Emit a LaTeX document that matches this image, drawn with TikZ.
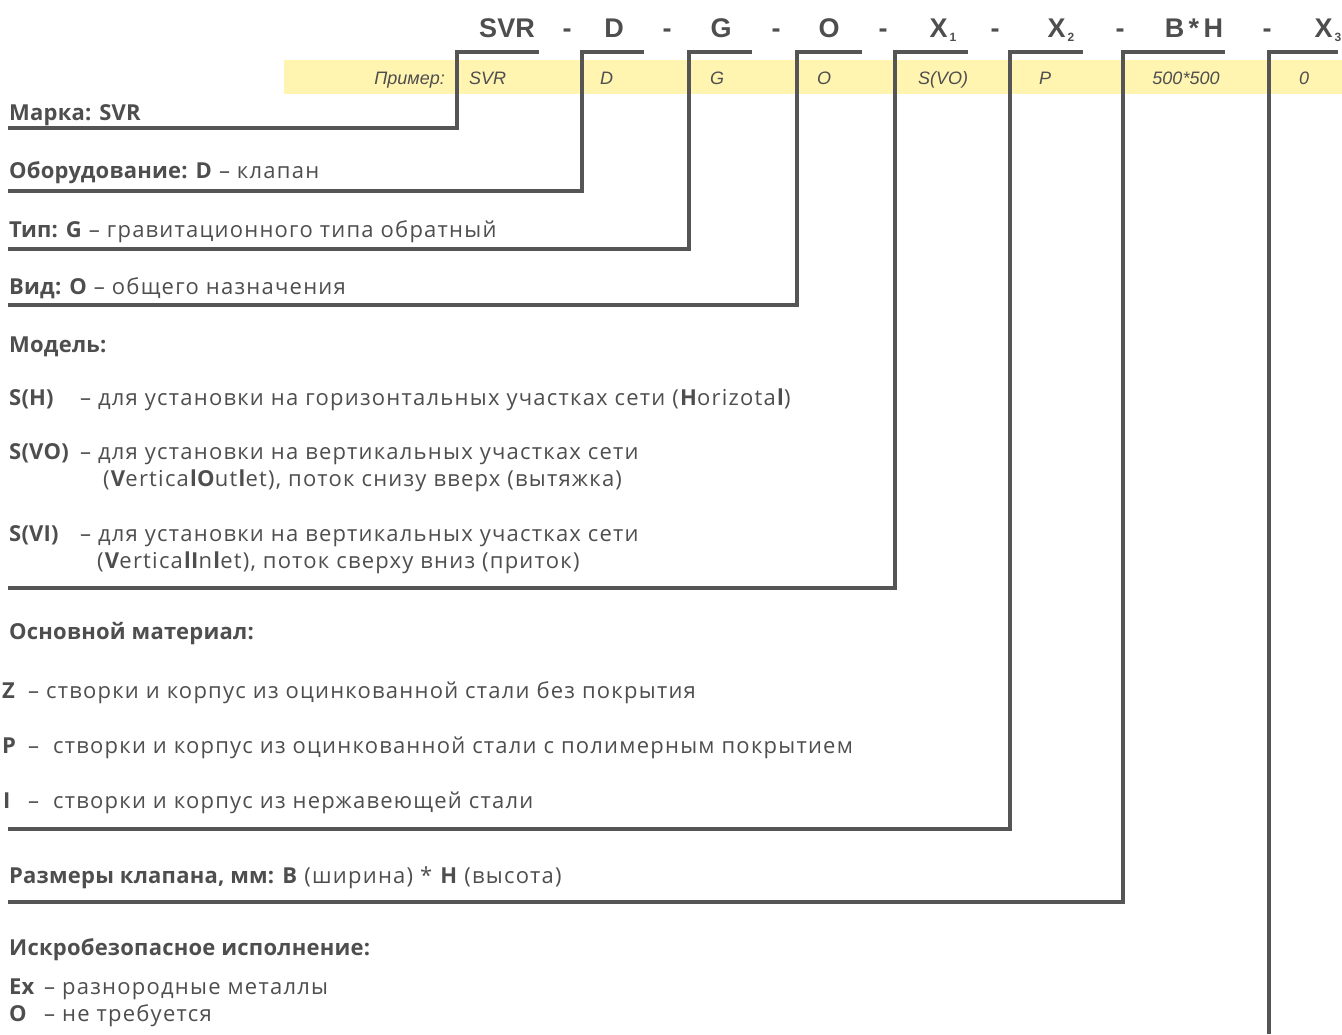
\documentclass[tikz,border=0pt]{standalone}
\usepackage{fontspec}
\setmainfont{Liberation Sans}
\newfontfamily\capfont{Open Sans}[LetterSpace=5.6, BoldFeatures={LetterSpace=1}]
\usetikzlibrary{positioning}
\definecolor{inkgray}{HTML}{4E4E4E}
\definecolor{linegray}{HTML}{555555}
\definecolor{bandyellow}{HTML}{FFF4B0}
\tikzset{
  codehead/.style={font=\fontsize{27}{27}\selectfont\bfseries, text=inkgray,
    inner sep=0pt, anchor=base},
  codedash/.style={codehead, font=\fontsize{27}{27}\selectfont\bfseries},
  sample/.style={font=\fontsize{18}{18}\selectfont\itshape, text=inkgray,
    inner sep=0pt, anchor=base},
  caption/.style={font=\capfont\fontsize{22}{26}\selectfont, text=inkgray,
    inner sep=0pt, anchor=base west},
  leader/.style={draw=linegray, line width=4pt, line join=miter},
}
\newcommand{\idx}[1]{\hspace{2pt}\raisebox{-4pt}{\fontsize{12}{12}\selectfont #1}}

\begin{document}
\begin{tikzpicture}[x=1pt, y=-1pt]
\useasboundingbox (0,0) rectangle (1342,1034);

% code line
\node[codehead] (hSVR) at (507,37) {SVR};
\node[codehead] (hD)   at (614,37) {D};
\node[codehead] (hG)   at (721,37) {G};
\node[codehead] (hO)   at (829,37) {O};
\node[codehead] (hX1)  at (943,37) {X\idx{1}};
\node[codehead] (hX2)  at (1061,37) {X\idx{2}};
\node[codehead] (hBH)  at (1194,37) {B\,*\,H};
\node[codehead] (hX3)  at (1328,37) {X\idx{3}};
\foreach \x in {567,667,776,883,995,1120,1267}
  \node[codedash] at (\x,37) {-};

% example row
\fill[bandyellow] (284,60) rectangle (1342,94);
\node[sample, anchor=base east] (exlabel) at (445,84) {Пример:};
\node[sample, anchor=base west] (exSVR) at (469,84) {SVR};
\node[sample, anchor=base west] (exD)   at (600,84) {D};
\node[sample] (exG)   at (717,84) {G};
\node[sample] (exO)   at (824,84) {O};
\node[sample] (exX1)  at (943,84) {S(VO)};
\node[sample] (exX2)  at (1045,84) {P};
\node[sample] (exBH)  at (1186,84) {500*500};
\node[sample] (exX3)  at (1304,84) {0};

% captions
\node[caption] (mark)  at (9,120) {\textbf{Марка: SVR}};
\node[caption] (equip) at (9,178) {\textbf{Оборудование: D} – клапан};
\node[caption] (type)  at (9,237) {\textbf{Тип: G} – гравитационного типа обратный};
\node[caption] (kind)  at (9,294) {\textbf{Вид: O} – общего назначения};

\node[caption] (model) at (9,352) {\textbf{Модель:}};
\node[caption] (mH)    at (9,405) {\textbf{S(H)}};
\node[caption] (mHtx)  at (80,405) {– для установки на горизонтальных участках сети (\textbf{H}orizota\textbf{l})};
\node[caption] (mVO)   at (9,459) {\textbf{S(VO)}};
\node[caption] (mVOtx) at (80,459) {– для установки на вертикальных участках сети};
\node[caption] (mVOb)  at (103,486) {(\textbf{V}ertica\textbf{lO}ut\textbf{l}et), поток снизу вверх (вытяжка)};
\node[caption] (mVI)   at (9,541) {\textbf{S(VI)}};
\node[caption] (mVItx) at (80,541) {– для установки на вертикальных участках сети};
\node[caption] (mVIb)  at (97,568) {(\textbf{V}ertica\textbf{lI}n\textbf{l}et), поток сверху вниз (приток)};

\node[caption] (material) at (9,639) {\textbf{Основной материал:}};
\node[caption] (matZ)   at (2,698) {\textbf{Z}};
\node[caption] (matZtx) at (28,698) {– створки и корпус из оцинкованной стали без покрытия};
\node[caption] (matP)   at (2,753) {\textbf{P}};
\node[caption] (matPtx) at (28,753) {–\hspace{14pt}створки и корпус из оцинкованной стали с полимерным покрытием};
\node[caption] (matI)   at (3,808) {\textbf{I}};
\node[caption] (matItx) at (28,808) {–\hspace{14pt}створки и корпус из нержавеющей стали};

\node[caption] (size) at (9,883) {\textbf{Размеры клапана, мм:}\hspace{8pt}\textbf{B} (ширина) * \textbf{H} (высота)};

\node[caption] (spark)   at (9,955) {\textbf{Искробезопасное исполнение:}};
\node[caption] (sparkEx) at (9,994) {\textbf{Ex}};
\node[caption] (sparkExtx) at (44,994) {– разнородные металлы};
\node[caption] (sparkO)  at (9,1021) {\textbf{O}};
\node[caption] (sparkOtx) at (44,1021) {– не требуется};

% leader corners
\coordinate (mark-l) at (8,128);   \coordinate (mark-c) at (457,52);  \coordinate (mark-e) at (539,52);
\coordinate (equip-l) at (8,191);  \coordinate (equip-c) at (582,52); \coordinate (equip-e) at (644,52);
\coordinate (type-l) at (8,249);   \coordinate (type-c) at (689,52);  \coordinate (type-e) at (752,52);
\coordinate (kind-l) at (8,305);   \coordinate (kind-c) at (797,52);  \coordinate (kind-e) at (862,52);
\coordinate (model-l) at (8,588);  \coordinate (model-c) at (895,52); \coordinate (model-e) at (968,52);
\coordinate (mat-l) at (8,829);    \coordinate (mat-c) at (1010,52);  \coordinate (mat-e) at (1083,52);
\coordinate (size-l) at (8,902);   \coordinate (size-c) at (1123,52); \coordinate (size-e) at (1225,52);
\coordinate (ex-l) at (1269,1034); \coordinate (ex-c) at (1269,52);   \coordinate (ex-e) at (1338,52);

\draw[leader] (mark-l) -| (mark-c) -- (mark-e);
\draw[leader] (equip-l) -| (equip-c) -- (equip-e);
\draw[leader] (type-l) -| (type-c) -- (type-e);
\draw[leader] (kind-l) -| (kind-c) -- (kind-e);
\draw[leader] (model-l) -| (model-c) -- (model-e);
\draw[leader] (mat-l) -| (mat-c) -- (mat-e);
\draw[leader] (size-l) -| (size-c) -- (size-e);
\draw[leader] (ex-l) -- (ex-c) -- (ex-e);
\end{tikzpicture}
\end{document}
